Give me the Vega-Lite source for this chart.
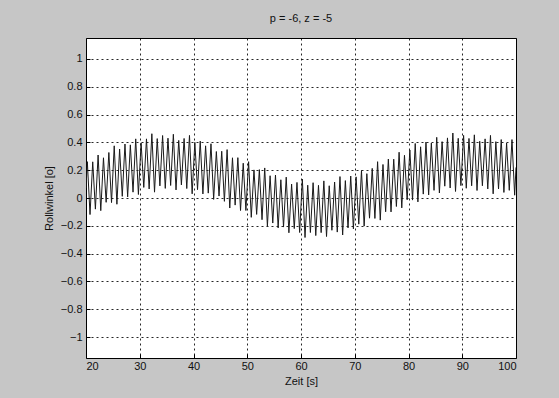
{
  "$schema": "https://vega.github.io/schema/vega-lite/v6.json",
  "autosize": {"type": "none"},
  "padding": {"left": 86, "top": 38, "right": 43, "bottom": 40},
  "width": 430,
  "height": 320,
  "background": "#c6c6c6",
  "title": {"text": "p = -6, z = -5", "fontSize": 11, "font": "Liberation Sans", "fontWeight": "normal", "color": "#111", "offset": 14, "anchor": "middle"},
  "config": {
    "view": {"fill": "white", "stroke": "black", "strokeWidth": 1},
    "axis": {
      "labelFont": "Liberation Sans", "labelFontSize": 11, "labelColor": "#111",
      "titleFont": "Liberation Sans", "titleFontSize": 11, "titleColor": "#111", "titleFontWeight": "normal",
      "grid": true, "gridColor": "black", "gridDash": [2, 3], "gridOpacity": 0.85, "gridWidth": 1,
      "domain": false, "tickColor": "black", "tickSize": -4
    }
  },
  "data": {"values": [
    {"t": 20.0, "y": 0.07},
    {"t": 20.25, "y": 0.261}, {"t": 20.75, "y": -0.119},
    {"t": 21.25, "y": 0.26}, {"t": 21.75, "y": -0.08},
    {"t": 22.25, "y": 0.309}, {"t": 22.75, "y": -0.091},
    {"t": 23.25, "y": 0.289}, {"t": 23.75, "y": -0.031},
    {"t": 24.25, "y": 0.327}, {"t": 24.75, "y": -0.033},
    {"t": 25.25, "y": 0.375}, {"t": 25.75, "y": -0.045},
    {"t": 26.25, "y": 0.352}, {"t": 26.75, "y": 0.012},
    {"t": 27.25, "y": 0.388}, {"t": 27.75, "y": 0.008},
    {"t": 28.25, "y": 0.382}, {"t": 28.75, "y": 0.042},
    {"t": 29.25, "y": 0.425}, {"t": 29.75, "y": 0.025},
    {"t": 30.25, "y": 0.396}, {"t": 30.75, "y": 0.076},
    {"t": 31.25, "y": 0.425}, {"t": 31.75, "y": 0.065},
    {"t": 32.25, "y": 0.462}, {"t": 32.75, "y": 0.042},
    {"t": 33.25, "y": 0.427}, {"t": 33.75, "y": 0.087},
    {"t": 34.25, "y": 0.449}, {"t": 34.75, "y": 0.069},
    {"t": 35.25, "y": 0.43}, {"t": 35.75, "y": 0.09},
    {"t": 36.25, "y": 0.458}, {"t": 36.75, "y": 0.058},
    {"t": 37.25, "y": 0.414}, {"t": 37.75, "y": 0.094},
    {"t": 38.25, "y": 0.428}, {"t": 38.75, "y": 0.068},
    {"t": 39.25, "y": 0.45}, {"t": 39.75, "y": 0.03},
    {"t": 40.25, "y": 0.40}, {"t": 40.75, "y": 0.06},
    {"t": 41.25, "y": 0.409}, {"t": 41.75, "y": 0.029},
    {"t": 42.25, "y": 0.375}, {"t": 42.75, "y": 0.035},
    {"t": 43.25, "y": 0.39}, {"t": 43.75, "y": -0.01},
    {"t": 44.25, "y": 0.334}, {"t": 44.75, "y": 0.014},
    {"t": 45.25, "y": 0.336}, {"t": 45.75, "y": -0.024},
    {"t": 46.25, "y": 0.348}, {"t": 46.75, "y": -0.072},
    {"t": 47.25, "y": 0.289}, {"t": 47.75, "y": -0.051},
    {"t": 48.25, "y": 0.29}, {"t": 48.75, "y": -0.09},
    {"t": 49.25, "y": 0.25}, {"t": 49.75, "y": -0.09},
    {"t": 50.25, "y": 0.261}, {"t": 50.75, "y": -0.139},
    {"t": 51.25, "y": 0.202}, {"t": 51.75, "y": -0.118},
    {"t": 52.25, "y": 0.204}, {"t": 52.75, "y": -0.156},
    {"t": 53.25, "y": 0.216}, {"t": 53.75, "y": -0.204},
    {"t": 54.25, "y": 0.16}, {"t": 54.75, "y": -0.18},
    {"t": 55.25, "y": 0.165}, {"t": 55.75, "y": -0.215},
    {"t": 56.25, "y": 0.131}, {"t": 56.75, "y": -0.209},
    {"t": 57.25, "y": 0.15}, {"t": 57.75, "y": -0.25},
    {"t": 58.25, "y": 0.10}, {"t": 58.75, "y": -0.22},
    {"t": 59.25, "y": 0.112}, {"t": 59.75, "y": -0.248},
    {"t": 60.25, "y": 0.136}, {"t": 60.75, "y": -0.284},
    {"t": 61.25, "y": 0.092}, {"t": 61.75, "y": -0.248},
    {"t": 62.25, "y": 0.11}, {"t": 62.75, "y": -0.27},
    {"t": 63.25, "y": 0.091}, {"t": 63.75, "y": -0.249},
    {"t": 64.25, "y": 0.123}, {"t": 64.75, "y": -0.277},
    {"t": 65.25, "y": 0.088}, {"t": 65.75, "y": -0.232},
    {"t": 66.25, "y": 0.115}, {"t": 66.75, "y": -0.245},
    {"t": 67.25, "y": 0.154}, {"t": 67.75, "y": -0.266},
    {"t": 68.25, "y": 0.125}, {"t": 68.75, "y": -0.215},
    {"t": 69.25, "y": 0.158}, {"t": 69.75, "y": -0.222},
    {"t": 70.25, "y": 0.152}, {"t": 70.75, "y": -0.188},
    {"t": 71.25, "y": 0.198}, {"t": 71.75, "y": -0.202},
    {"t": 72.25, "y": 0.175}, {"t": 72.75, "y": -0.145},
    {"t": 73.25, "y": 0.213}, {"t": 73.75, "y": -0.147},
    {"t": 74.25, "y": 0.261}, {"t": 74.75, "y": -0.159},
    {"t": 75.25, "y": 0.241}, {"t": 75.75, "y": -0.099},
    {"t": 76.25, "y": 0.28}, {"t": 76.75, "y": -0.10},
    {"t": 77.25, "y": 0.279}, {"t": 77.75, "y": -0.061},
    {"t": 78.25, "y": 0.329}, {"t": 78.75, "y": -0.071},
    {"t": 79.25, "y": 0.307}, {"t": 79.75, "y": -0.013},
    {"t": 80.25, "y": 0.345}, {"t": 80.75, "y": -0.015},
    {"t": 81.25, "y": 0.392}, {"t": 81.75, "y": -0.028},
    {"t": 82.25, "y": 0.368}, {"t": 82.75, "y": 0.028},
    {"t": 83.25, "y": 0.402}, {"t": 83.75, "y": 0.022},
    {"t": 84.25, "y": 0.395}, {"t": 84.75, "y": 0.055},
    {"t": 85.25, "y": 0.436}, {"t": 85.75, "y": 0.036},
    {"t": 86.25, "y": 0.405}, {"t": 86.75, "y": 0.085},
    {"t": 87.25, "y": 0.432}, {"t": 87.75, "y": 0.072},
    {"t": 88.25, "y": 0.467}, {"t": 88.75, "y": 0.047},
    {"t": 89.25, "y": 0.429}, {"t": 89.75, "y": 0.089},
    {"t": 90.25, "y": 0.45}, {"t": 90.75, "y": 0.07},
    {"t": 91.25, "y": 0.428}, {"t": 91.75, "y": 0.088},
    {"t": 92.25, "y": 0.454}, {"t": 92.75, "y": 0.054},
    {"t": 93.25, "y": 0.408}, {"t": 93.75, "y": 0.088},
    {"t": 94.25, "y": 0.425}, {"t": 94.75, "y": 0.065},
    {"t": 95.25, "y": 0.45}, {"t": 95.75, "y": 0.03},
    {"t": 96.25, "y": 0.405}, {"t": 96.75, "y": 0.065},
    {"t": 97.25, "y": 0.42}, {"t": 97.75, "y": 0.04},
    {"t": 98.25, "y": 0.395}, {"t": 98.75, "y": 0.055},
    {"t": 99.25, "y": 0.42}, {"t": 99.75, "y": 0.02},
    {"t": 100.0, "y": 0.22}
  ]},
  "mark": {"type": "line", "color": "#1a1a1a", "strokeWidth": 1, "clip": true},
  "encoding": {
    "x": {"field": "t", "type": "quantitative", "scale": {"domain": [20, 100], "nice": false, "zero": false},
      "axis": {"title": "Zeit [s]", "values": [20, 30, 40, 50, 60, 70, 80, 90, 100], "labelPadding": 6, "titlePadding": 4}},
    "y": {"field": "y", "type": "quantitative", "scale": {"domain": [-1.15, 1.15], "nice": false, "zero": false},
      "axis": {"title": "Rollwinkel [o]", "values": [-1, -0.8, -0.6, -0.4, -0.2, 0, 0.2, 0.4, 0.6, 0.8, 1], "format": "~g", "labelPadding": 8, "titlePadding": 6}}
  }
}
